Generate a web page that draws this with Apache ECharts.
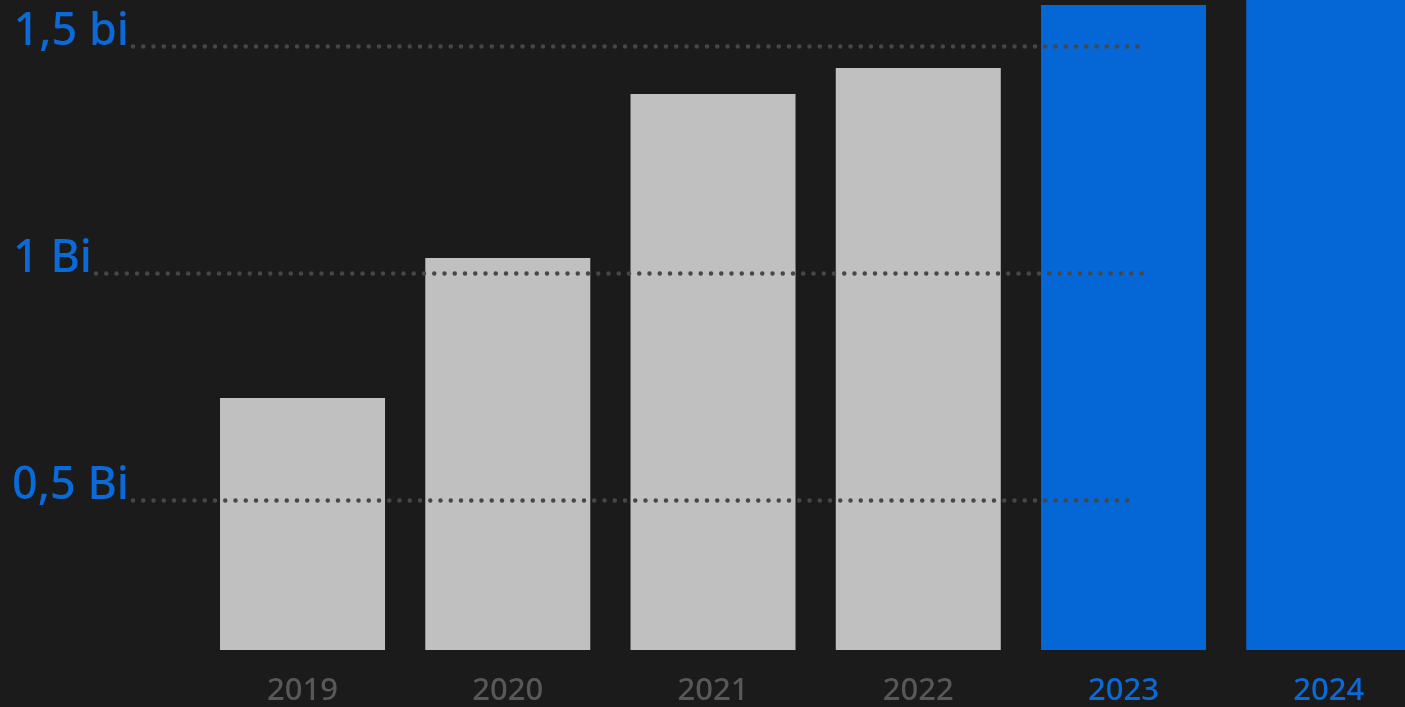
<!DOCTYPE html>
<html>
<head>
<meta charset="utf-8">
<script src="https://cdn.jsdelivr.net/npm/echarts@6/dist/echarts.min.js"></script>
<style>
html,body{margin:0;padding:0;background:#1b1b1b;}
#c{width:1405px;height:707px;}
</style>
</head>
<body>
<div id="c"></div>
<script>
var categories = ['2019', '2020', '2021', '2022', '2023', '2024'];
var values = [0.726, 1.034, 1.395, 1.452, 1.591, 1.65];
var highlighted = [false, false, false, false, true, true];
var refValues = [1.5, 1.0, 0.5];
var refLabels = ['1,5 bi', '1 Bi', '0,5 Bi'];

var GRAY_BAR = '#c0c0c0';
var BLUE = '#0566d6';
var GRAY_TXT = '#585858';
var BLUE_TXT = '#0a6ad8';
var lineStarts = [133, 96, 133];
var lineEnds = [1146, 1146, 1136];

var chart = echarts.init(document.getElementById('c'));

var barData = values.map(function (v, i) {
  return { value: v, itemStyle: { color: highlighted[i] ? BLUE : GRAY_BAR } };
});
var xData = categories.map(function (c, i) {
  return { value: c, textStyle: { color: highlighted[i] ? BLUE_TXT : GRAY_TXT } };
});
var markData = refValues.map(function (v, i) {
  return [
    { x: lineStarts[i], yAxis: v, label: { formatter: refLabels[i] + '\n ' } },
    { x: lineEnds[i], yAxis: v }
  ];
});

chart.setOption({
  backgroundColor: '#1b1b1b',
  animation: false,
  grid: { left: 199.9, width: 1231.5, top: 0, height: 650, outerBoundsMode: 'none', containLabel: false },
  xAxis: {
    type: 'category',
    data: xData,
    axisLine: { show: false },
    axisTick: { show: false },
    axisLabel: {
      margin: 26,
      fontSize: 31,
      fontWeight: 500,
      lineHeight: 30,
      fontFamily: 'Noto Sans'
    }
  },
  yAxis: {
    type: 'value',
    min: 0.1716,
    max: 1.6018,
    axisLine: { show: false },
    axisTick: { show: false },
    axisLabel: { show: false },
    splitLine: { show: false }
  },
  series: [{
    type: 'bar',
    data: barData,
    barWidth: 165,
    clip: true,
    markLine: {
      silent: true,
      symbol: ['none', 'none'],
      z: 10,
      lineStyle: {
        color: '#474747',
        width: 4.5,
        type: [0, 10.25],
        cap: 'round'
      },
      label: {
        show: true,
        position: 'start',
        distance: 4,
        color: BLUE_TXT,
        fontSize: 45,
        fontWeight: 500,
        lineHeight: 29,
        fontFamily: 'Noto Sans'
      },
      emphasis: { disabled: true },
      data: markData
    }
  }]
});
</script>
</body>
</html>
